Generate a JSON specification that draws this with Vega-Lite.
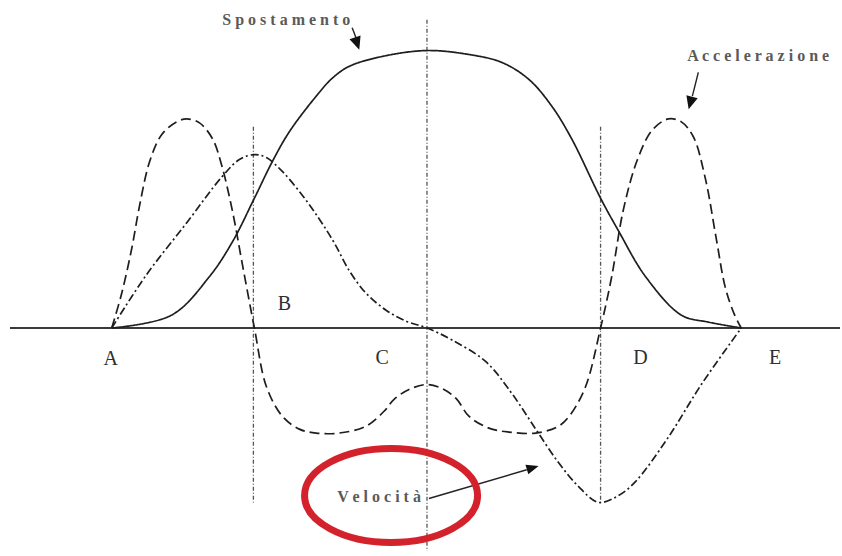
{
  "$schema": "https://vega.github.io/schema/vega-lite/v6.json",
  "width": 842,
  "height": 556,
  "autosize": {"type": "fit", "contains": "padding"},
  "padding": 0,
  "background": "white",
  "config": {"view": {"stroke": null}},
  "datasets": {
    "curves": [
      {"series": "Spostamento", "t": 0, "v": 0},
      {"series": "Spostamento", "t": 60, "v": 13},
      {"series": "Spostamento", "t": 98, "v": 52},
      {"series": "Spostamento", "t": 121, "v": 87},
      {"series": "Spostamento", "t": 143, "v": 131},
      {"series": "Spostamento", "t": 161, "v": 168},
      {"series": "Spostamento", "t": 178, "v": 198},
      {"series": "Spostamento", "t": 205, "v": 234},
      {"series": "Spostamento", "t": 221, "v": 252},
      {"series": "Spostamento", "t": 238, "v": 264},
      {"series": "Spostamento", "t": 271, "v": 274},
      {"series": "Spostamento", "t": 316, "v": 280},
      {"series": "Spostamento", "t": 358, "v": 276},
      {"series": "Spostamento", "t": 391, "v": 268},
      {"series": "Spostamento", "t": 418, "v": 251},
      {"series": "Spostamento", "t": 441, "v": 224},
      {"series": "Spostamento", "t": 461, "v": 191},
      {"series": "Spostamento", "t": 490, "v": 131},
      {"series": "Spostamento", "t": 508, "v": 98},
      {"series": "Spostamento", "t": 535, "v": 52},
      {"series": "Spostamento", "t": 571, "v": 13},
      {"series": "Spostamento", "t": 598, "v": 6},
      {"series": "Spostamento", "t": 631, "v": 0},

      {"series": "Accelerazione", "t": 0, "v": 0},
      {"series": "Accelerazione", "t": 10, "v": 35},
      {"series": "Accelerazione", "t": 20, "v": 80},
      {"series": "Accelerazione", "t": 28, "v": 124},
      {"series": "Accelerazione", "t": 38, "v": 168},
      {"series": "Accelerazione", "t": 50, "v": 195},
      {"series": "Accelerazione", "t": 65, "v": 208},
      {"series": "Accelerazione", "t": 75, "v": 211},
      {"series": "Accelerazione", "t": 88, "v": 207},
      {"series": "Accelerazione", "t": 101, "v": 191},
      {"series": "Accelerazione", "t": 110, "v": 165},
      {"series": "Accelerazione", "t": 121, "v": 118},
      {"series": "Accelerazione", "t": 131, "v": 64},
      {"series": "Accelerazione", "t": 143, "v": 0},
      {"series": "Accelerazione", "t": 155, "v": -59},
      {"series": "Accelerazione", "t": 171, "v": -89},
      {"series": "Accelerazione", "t": 188, "v": -102},
      {"series": "Accelerazione", "t": 205, "v": -106},
      {"series": "Accelerazione", "t": 228, "v": -106},
      {"series": "Accelerazione", "t": 255, "v": -99},
      {"series": "Accelerazione", "t": 273, "v": -84},
      {"series": "Accelerazione", "t": 283, "v": -72},
      {"series": "Accelerazione", "t": 298, "v": -62},
      {"series": "Accelerazione", "t": 316, "v": -57},
      {"series": "Accelerazione", "t": 333, "v": -62},
      {"series": "Accelerazione", "t": 346, "v": -72},
      {"series": "Accelerazione", "t": 358, "v": -89},
      {"series": "Accelerazione", "t": 378, "v": -101},
      {"series": "Accelerazione", "t": 398, "v": -105},
      {"series": "Accelerazione", "t": 425, "v": -106},
      {"series": "Accelerazione", "t": 448, "v": -99},
      {"series": "Accelerazione", "t": 460, "v": -87},
      {"series": "Accelerazione", "t": 475, "v": -59},
      {"series": "Accelerazione", "t": 490, "v": 0},
      {"series": "Accelerazione", "t": 501, "v": 51},
      {"series": "Accelerazione", "t": 513, "v": 120},
      {"series": "Accelerazione", "t": 527, "v": 170},
      {"series": "Accelerazione", "t": 542, "v": 200},
      {"series": "Accelerazione", "t": 558, "v": 211},
      {"series": "Accelerazione", "t": 571, "v": 208},
      {"series": "Accelerazione", "t": 583, "v": 193},
      {"series": "Accelerazione", "t": 595, "v": 151},
      {"series": "Accelerazione", "t": 606, "v": 90},
      {"series": "Accelerazione", "t": 615, "v": 41},
      {"series": "Accelerazione", "t": 624, "v": 14},
      {"series": "Accelerazione", "t": 631, "v": 0},

      {"series": "Velocità", "t": 0, "v": 0},
      {"series": "Velocità", "t": 35, "v": 54},
      {"series": "Velocità", "t": 75, "v": 106},
      {"series": "Velocità", "t": 110, "v": 152},
      {"series": "Velocità", "t": 128, "v": 170},
      {"series": "Velocità", "t": 143, "v": 175},
      {"series": "Velocità", "t": 155, "v": 172},
      {"series": "Velocità", "t": 171, "v": 158},
      {"series": "Velocità", "t": 191, "v": 134},
      {"series": "Velocità", "t": 208, "v": 110},
      {"series": "Velocità", "t": 223, "v": 86},
      {"series": "Velocità", "t": 238, "v": 58},
      {"series": "Velocità", "t": 255, "v": 35},
      {"series": "Velocità", "t": 275, "v": 18},
      {"series": "Velocità", "t": 295, "v": 7},
      {"series": "Velocità", "t": 316, "v": 0},
      {"series": "Velocità", "t": 341, "v": -12},
      {"series": "Velocità", "t": 375, "v": -34},
      {"series": "Velocità", "t": 401, "v": -66},
      {"series": "Velocità", "t": 425, "v": -102},
      {"series": "Velocità", "t": 448, "v": -136},
      {"series": "Velocità", "t": 468, "v": -160},
      {"series": "Velocità", "t": 488, "v": -176},
      {"series": "Velocità", "t": 508, "v": -169},
      {"series": "Velocità", "t": 525, "v": -155},
      {"series": "Velocità", "t": 558, "v": -110},
      {"series": "Velocità", "t": 591, "v": -57},
      {"series": "Velocità", "t": 631, "v": 0}
    ],
    "guides": [
      {"name": "B", "t": 142, "v": 203, "v2": -176},
      {"name": "C", "t": 316, "v": 311, "v2": -225},
      {"name": "D", "t": 490, "v": 203, "v2": -176}
    ],
    "baseline": [{"t": -102, "t2": 730, "v": 0}],
    "points": [
      {"label": "A", "t": -1, "v": -31},
      {"label": "B", "t": 173, "v": 24},
      {"label": "C", "t": 271, "v": -30},
      {"label": "D", "t": 530, "v": -30},
      {"label": "E", "t": 665, "v": -30}
    ],
    "names": [
      {"text": "S p o s t a m e n t o", "t": 175, "v": 311},
      {"text": "A c c e l e r a z i o n e", "t": 648, "v": 274},
      {"text": "V e l o c i t à", "t": 268, "v": -171}
    ],
    "arrows": [
      {"target": "Spostamento", "t": 241, "v": 303, "t2": 246, "v2": 290, "ht": 246, "hv": 287},
      {"target": "Accelerazione", "t": 588, "v": 258, "t2": 582, "v2": 234, "ht": 580, "hv": 227},
      {"target": "Velocità", "t": 318, "v": -172, "t2": 416, "v2": -143, "ht": 422, "hv": -141}
    ],
    "highlight": [{"target": "Velocità", "t": 280, "v": -169}]
  },
  "layer": [
    {
      "data": {"name": "guides"},
      "mark": {"type": "rule", "color": "#555555", "strokeWidth": 1.3, "strokeDash": [4, 2, 1, 2]},
      "encoding": {
        "x": {"field": "t", "type": "quantitative", "scale": {"domain": [-112, 730], "nice": false, "zero": false}, "axis": null},
        "y": {"field": "v", "type": "quantitative", "scale": {"domain": [-225, 331], "nice": false, "zero": false}, "axis": null},
        "y2": {"field": "v2"}
      }
    },
    {
      "data": {"name": "baseline"},
      "mark": {"type": "rule", "color": "#3a3a3a", "strokeWidth": 2.2},
      "encoding": {
        "x": {"field": "t", "type": "quantitative", "scale": {"domain": [-112, 730], "nice": false, "zero": false}, "axis": null},
        "x2": {"field": "t2"},
        "y": {"field": "v", "type": "quantitative", "scale": {"domain": [-225, 331], "nice": false, "zero": false}, "axis": null}
      }
    },
    {
      "data": {"name": "curves"},
      "mark": {"type": "line", "interpolate": "catmull-rom", "color": "#1e1e1e", "strokeWidth": 1.7},
      "encoding": {
        "x": {"field": "t", "type": "quantitative", "scale": {"domain": [-112, 730], "nice": false, "zero": false}, "axis": null},
        "y": {"field": "v", "type": "quantitative", "scale": {"domain": [-225, 331], "nice": false, "zero": false}, "axis": null},
        "detail": {"field": "series", "type": "nominal"},
        "strokeDash": {
          "field": "series",
          "type": "nominal",
          "scale": {"domain": ["Spostamento", "Accelerazione", "Velocità"], "range": [[1, 0], [10, 5], [8, 3, 2, 3]]},
          "legend": null
        }
      }
    },
    {
      "data": {"name": "points"},
      "mark": {"type": "text", "font": "Liberation Serif", "fontSize": 20, "color": "#2e2e2e", "baseline": "middle", "align": "center"},
      "encoding": {
        "x": {"field": "t", "type": "quantitative", "scale": {"domain": [-112, 730], "nice": false, "zero": false}, "axis": null},
        "y": {"field": "v", "type": "quantitative", "scale": {"domain": [-225, 331], "nice": false, "zero": false}, "axis": null},
        "text": {"field": "label"}
      }
    },
    {
      "data": {"name": "names"},
      "mark": {"type": "text", "font": "Liberation Serif", "fontSize": 16, "fontWeight": "bold", "color": "#5a5a5a", "baseline": "middle", "align": "center"},
      "encoding": {
        "x": {"field": "t", "type": "quantitative", "scale": {"domain": [-112, 730], "nice": false, "zero": false}, "axis": null},
        "y": {"field": "v", "type": "quantitative", "scale": {"domain": [-225, 331], "nice": false, "zero": false}, "axis": null},
        "text": {"field": "text"}
      }
    },
    {
      "data": {"name": "arrows"},
      "mark": {"type": "rule", "color": "#222222", "strokeWidth": 1.4},
      "encoding": {
        "x": {"field": "t", "type": "quantitative", "scale": {"domain": [-112, 730], "nice": false, "zero": false}, "axis": null},
        "y": {"field": "v", "type": "quantitative", "scale": {"domain": [-225, 331], "nice": false, "zero": false}, "axis": null},
        "x2": {"field": "t2"},
        "y2": {"field": "v2"}
      }
    },
    {
      "data": {"name": "arrows"},
      "transform": [{"filter": "datum.target === 'Spostamento'"}],
      "mark": {"type": "point", "shape": "M 1 0 L -1 -0.9 L -1 0.9 Z", "size": 169, "angle": 71, "filled": true, "color": "#111111", "opacity": 1},
      "encoding": {
        "x": {"field": "ht", "type": "quantitative", "scale": {"domain": [-112, 730], "nice": false, "zero": false}, "axis": null},
        "y": {"field": "hv", "type": "quantitative", "scale": {"domain": [-225, 331], "nice": false, "zero": false}, "axis": null}
      }
    },
    {
      "data": {"name": "arrows"},
      "transform": [{"filter": "datum.target === 'Accelerazione'"}],
      "mark": {"type": "point", "shape": "M 1 0 L -1 -0.9 L -1 0.9 Z", "size": 169, "angle": 105, "filled": true, "color": "#111111", "opacity": 1},
      "encoding": {
        "x": {"field": "ht", "type": "quantitative", "scale": {"domain": [-112, 730], "nice": false, "zero": false}, "axis": null},
        "y": {"field": "hv", "type": "quantitative", "scale": {"domain": [-225, 331], "nice": false, "zero": false}, "axis": null}
      }
    },
    {
      "data": {"name": "arrows"},
      "transform": [{"filter": "datum.target === 'Velocità'"}],
      "mark": {"type": "point", "shape": "M 1 0 L -1 -0.8 L -1 0.8 Z", "size": 150, "angle": -17, "filled": true, "color": "#111111", "opacity": 1},
      "encoding": {
        "x": {"field": "ht", "type": "quantitative", "scale": {"domain": [-112, 730], "nice": false, "zero": false}, "axis": null},
        "y": {"field": "hv", "type": "quantitative", "scale": {"domain": [-225, 331], "nice": false, "zero": false}, "axis": null}
      }
    },
    {
      "data": {"name": "highlight"},
      "mark": {
        "type": "point",
        "shape": "M 1 0 C 1 0.3 0.552 0.543 0 0.543 C -0.552 0.543 -1 0.3 -1 0 C -1 -0.3 -0.552 -0.543 0 -0.543 C 0.552 -0.543 1 -0.3 1 0 Z",
        "size": 29929,
        "filled": false,
        "stroke": "#d3222b",
        "strokeWidth": 7,
        "opacity": 1
      },
      "encoding": {
        "x": {"field": "t", "type": "quantitative", "scale": {"domain": [-112, 730], "nice": false, "zero": false}, "axis": null},
        "y": {"field": "v", "type": "quantitative", "scale": {"domain": [-225, 331], "nice": false, "zero": false}, "axis": null}
      }
    }
  ]
}
